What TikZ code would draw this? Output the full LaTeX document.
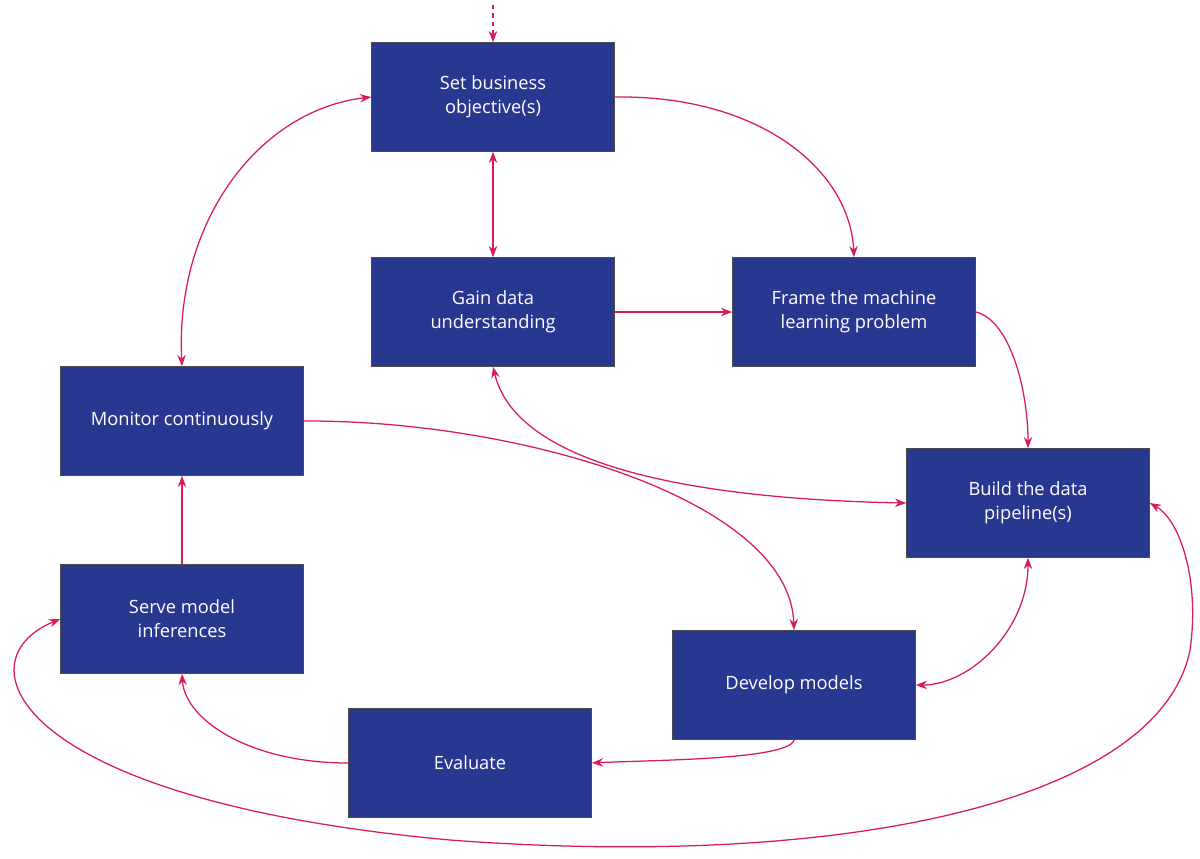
\documentclass[tikz,border=0pt]{standalone}
\usepackage{fontspec}
\setmainfont{Open Sans}
\usetikzlibrary{arrows.meta}
\definecolor{boxc}{HTML}{283891}
\definecolor{arr}{HTML}{D81B5B}
\begin{document}
\begin{tikzpicture}[x=0.025cm,y=-0.025cm,
  box/.style={draw=black!70,fill=boxc,text=white,minimum width=243*0.025cm,minimum height=109*0.025cm,align=center,font=\fontsize{13}{17}\selectfont,inner sep=0pt},
  a/.style={draw=arr,line width=0.9pt,-{Stealth[length=8pt,width=6pt]}},
  aa/.style={draw=arr,line width=0.9pt,{Stealth[length=8pt,width=6pt]}-{Stealth[length=8pt,width=6pt]}}]
\useasboundingbox (0,0) rectangle (1200,858);
\node[box] (sb) at (493,97) {Set business\\objective(s)};
\node[box] (gd) at (493,312) {Gain data\\understanding};
\node[box] (fr) at (854,312) {Frame the machine\\learning problem};
\node[box] (mo) at (182,421) {Monitor continuously};
\node[box] (bu) at (1028,503) {Build the data\\pipeline(s)};
\node[box] (se) at (182,619) {Serve model\\inferences};
\node[box] (de) at (794,685) {Develop models};
\node[box] (ev) at (470,763) {Evaluate};
\coordinate (top) at (493,5);
\draw[a,dashed] (top) -- (sb.north);
\draw[a] (sb.east) .. controls (760,95) and (850,170) .. (fr.north);
\draw[aa] (sb.south) -- (gd.north);
\draw[a] (gd.east) -- (fr.west);
\draw[a] (fr.east) .. controls (1010,320) and (1028,390) .. (bu.north);
\draw[aa] (gd.south) .. controls (520,480) and (750,500) .. (bu.west);
\draw[aa] (mo.north) .. controls (175,220) and (260,110) .. (sb.west);
\draw[a] (se.north) -- (mo.south);
\draw[a] (mo.east) .. controls (520,420) and (790,500) .. (de.north);
\draw[aa] (bu.south) .. controls (1028,630) and (970,685) .. (de.east);
\draw[a] (de.south) .. controls (790,760) and (650,760) .. (ev.east);
\draw[a] (ev.west) .. controls (250,763) and (185,720) .. (se.south);
\draw[aa] (se.west) .. controls (-40,660) and (10,800) .. (450,840) .. controls (850,870) and (1160,800) .. (1190,650) .. controls (1200,580) and (1180,520) .. (bu.east);
\end{tikzpicture}
\end{document}
